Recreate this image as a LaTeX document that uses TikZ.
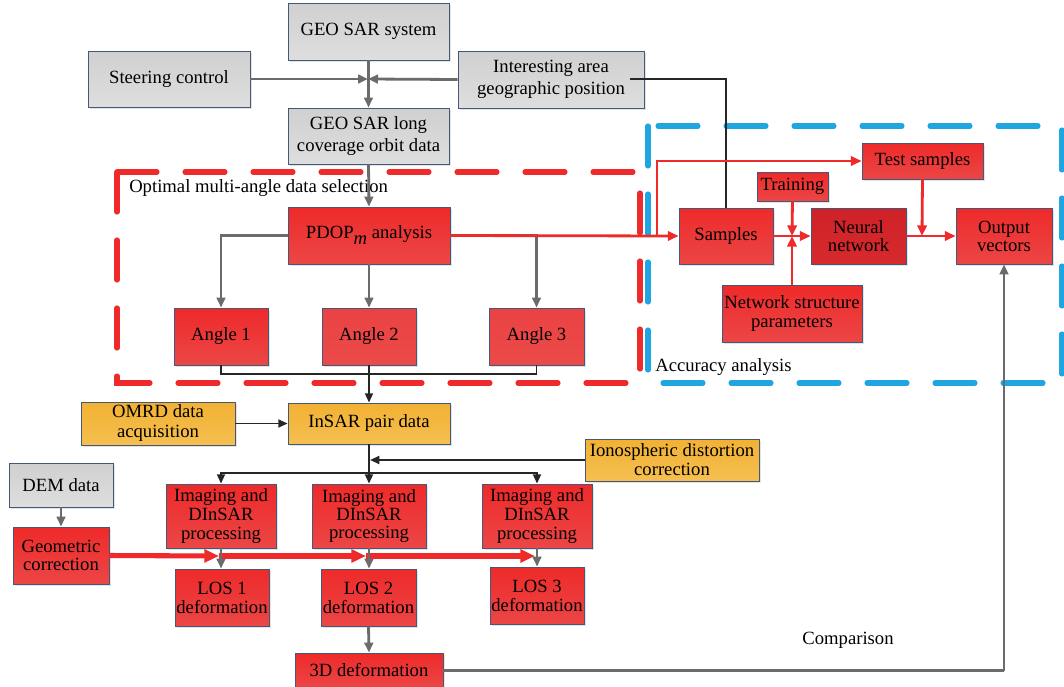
\documentclass[tikz,border=0pt]{standalone}
\usepackage{fontspec}
\setmainfont{Liberation Serif}
\usetikzlibrary{arrows.meta,shadows}
\definecolor{bord}{HTML}{44587A}
\definecolor{gtop}{HTML}{D0D0D0}
\definecolor{gbot}{HTML}{DEDEDE}
\definecolor{rtop}{HTML}{EE2A2A}
\definecolor{rbot}{HTML}{EC4646}
\definecolor{ptop}{HTML}{EA4242}
\definecolor{pbot}{HTML}{EC4A4A}
\definecolor{ntop}{HTML}{CF2228}
\definecolor{nbot}{HTML}{D62A2E}
\definecolor{otop}{HTML}{F2B133}
\definecolor{obot}{HTML}{F5BF50}
\definecolor{lgray}{HTML}{6B6B6B}
\definecolor{rline}{HTML}{EE2A2A}
\definecolor{bdash}{HTML}{1FA6E0}
\begin{document}
\begin{tikzpicture}[x=0.75pt,y=-0.75pt,
  corners/.style n args={4}{at={({(#1+#3)/2},{(#2+#4)/2})},
    minimum width={(#3-#1)*0.75pt}, minimum height={(#4-#2)*0.75pt}},
  box/.style={draw=bord, line width=0.6pt, inner sep=0pt, align=center, anchor=center,
    font=\fontsize{14}{15}\selectfont,
    drop shadow={shadow xshift=1.2pt, shadow yshift=-1.2pt, opacity=0.22}},
  gbox/.style={box, top color=gtop, bottom color=gbot},
  rbox/.style={box, top color=rtop, bottom color=rbot},
  pbox/.style={box, top color=ptop, bottom color=pbot},
  nbox/.style={box, top color=ntop, bottom color=nbot},
  obox/.style={box, top color=otop, bottom color=obot},
  gline/.style={draw=lgray, line width=2.1pt},
  garr/.style={gline, -{Triangle[length=7.5pt,width=6.5pt]}},
  bline/.style={draw=black!85, line width=1.4pt},
  barr/.style={bline, -{Triangle[length=7pt,width=6pt]}},
  rlin/.style={draw=rline, line width=2.1pt},
  rarr/.style={rlin, -{Triangle[length=8pt,width=7pt]}},
  tarr/.style={draw=rline, line width=3.8pt, -{Triangle[length=11pt,width=9.5pt]}},
  dashbox/.style={line width=3.8pt, line cap=round, dash pattern=on 30pt off 21pt},
  lbl/.style={font=\fontsize{14}{15}\selectfont, inner sep=0pt}
]
\useasboundingbox (0,0) rectangle (1064,686);

% dashed regions
\draw[dashbox, draw=rline] (117,172) rectangle (640,383);
\draw[dashbox, draw=bdash] (648,126) rectangle (1062,383);
\node[lbl, anchor=west] (lopt) at (129,188) {Optimal multi-angle data selection};
\node[lbl, anchor=west] (lacc) at (655,367) {Accuracy analysis};
\node[lbl] (lcmp) at (848,640) {Comparison};

% boxes
\node[gbox, corners={288}{3}{449}{60}] (geo) {GEO SAR system};
\node[gbox, corners={88}{51}{250}{107}] (steer) {Steering control};
\node[gbox, corners={458}{51}{644}{108}, font=\fontsize{14}{16.5}\selectfont] (inter) {Interesting area\\geographic position};
\node[gbox, corners={288}{108}{449}{164}, font=\fontsize{14}{16.5}\selectfont] (long) {GEO SAR long\\coverage orbit data};
\node[rbox, corners={288}{207}{450}{264}] (pdop) {PDOP\raisebox{-0.32em}{\itshape m} analysis};
\node[rbox, corners={174}{308}{268}{365}] (a1) {Angle 1};
\node[pbox, corners={322}{308}{416}{365}] (a2) {Angle 2};
\node[pbox, corners={489}{308}{584}{365}] (a3) {Angle 3};
\node[rbox, corners={679}{208}{773}{264}] (samp) {Samples};
\node[rbox, corners={757}{172}{828}{201}] (train) {Training};
\node[nbox, corners={811}{208}{906}{264}, font=\fontsize{14}{13.5}\selectfont] (neur) {Neural\\network};
\node[rbox, corners={862}{143}{983}{179}] (test) {Test samples};
\node[rbox, corners={956}{208}{1052}{264}, font=\fontsize{14}{13.5}\selectfont] (outv) {Output\\vectors};
\node[rbox, corners={722}{285}{862}{342}, font=\fontsize{14}{14.3}\selectfont] (nsp) {Network structure\\parameters};
\node[obox, corners={81}{402}{235}{445}] (omrd) {OMRD data\\acquisition};
\node[obox, corners={288}{403}{450}{444}] (insar) {InSAR pair data};
\node[obox, corners={585}{439}{759}{481}, font=\fontsize{14}{14.3}\selectfont] (iono) {Ionospheric distortion\\correction};
\node[gbox, corners={9}{463}{113}{507}] (dem) {DEM data};
\node[rbox, corners={13}{527}{109}{584}, font=\fontsize{14}{13}\selectfont] (geom) {Geometric\\correction};
\node[rbox, corners={166}{484}{276}{548}, font=\fontsize{14}{14.3}\selectfont] (img1) {Imaging and\\DInSAR\\processing};
\node[rbox, corners={312}{484}{426}{548}, font=\fontsize{14}{13.2}\selectfont] (img2) {Imaging and\\DInSAR\\processing};
\node[rbox, corners={482}{484}{592}{548}, font=\fontsize{14}{14.3}\selectfont] (img3) {Imaging and\\DInSAR\\processing};
\node[rbox, corners={175}{569}{269}{626}, font=\fontsize{14}{14.3}\selectfont] (los1) {LOS 1\\deformation};
\node[rbox, corners={321}{569}{416}{626}, font=\fontsize{14}{14.3}\selectfont] (los2) {LOS 2\\deformation};
\node[rbox, corners={490}{567}{584}{624}, font=\fontsize{14}{14.3}\selectfont] (los3) {LOS 3\\deformation};
\node[rbox, corners={295}{653}{443}{688}] (d3) {3D deformation};

% junctions
\coordinate (j1) at (368,79);
\coordinate (jr) at (657,236);
\coordinate (jt) at (792,236);
\coordinate (jo) at (922,236);
\coordinate (jb) at (369,374);
\coordinate (ji) at (369,473);
\coordinate (jio) at (370,460);
\coordinate (tr1) at (219,556);
\coordinate (tr2) at (366,556);
\coordinate (tr3) at (535,556);
\coordinate (jc) at (1004,670.5);
\coordinate (is) at (630,79);

% top gray connectors
\draw[garr] (geo.south) -- (long.north);
\draw[garr] (steer.east) -- (j1);
\draw[garr] (inter.west) -- (j1);
\draw[bline] (is) -| (samp.north);
\draw[garr] (long.south) -- (pdop.north);
\draw[garr] (pdop.west) -| (a1.north);
\draw[garr] (pdop.south) -- (a2.north);
\draw[garr] (pdop.east) -| (a3.north);

% red connectors
\draw[rarr] (pdop.east) -- (samp.west);
\draw[rarr] (jr) |- (test.west);
\draw[rlin] (samp.east) -- (jt);
\draw[rarr] (jt) -- (neur.west);
\draw[rarr] (train.south) -- (jt);
\draw[rarr] (nsp.north) -- (jt);
\draw[rarr] (neur.east) -- (outv.west);
\draw[rarr] (test.south) -- (jo);

% black connectors
\draw[bline] (a1.south) |- (jb) -| (a3.south);
\draw[barr] (a2.south) -- (insar.north);
\draw[barr] (omrd.east) -- (insar.west);
\draw[barr] (insar.south) -- (img2.north);
\draw[barr] (ji) -| (img1.north);
\draw[barr] (ji) -| (img3.north);
\draw[barr] (iono.west) -- (jio);

% lower
\draw[garr] (dem.south) -- (geom.north);
\draw[tarr] (geom.east) -- (tr1);
\draw[tarr] (tr1) -- (tr2);
\draw[tarr] (tr2) -- (tr3);
\draw[garr] (img1.south) -- (img1.south |- los1.north);
\draw[garr] (img2.south) -- (img2.south |- los2.north);
\draw[garr] (img3.south) -- (img3.south |- los3.north);
\draw[garr] (los2.south) -- (d3.north);
\draw[gline] (d3.east) -- (jc);
\draw[garr] (jc) -- (outv.south);
\end{tikzpicture}
\end{document}
